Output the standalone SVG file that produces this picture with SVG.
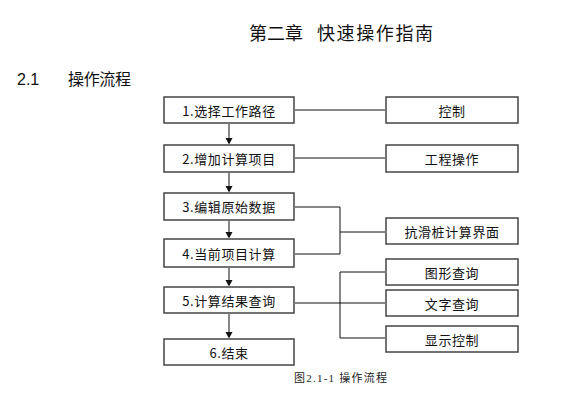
<svg xmlns="http://www.w3.org/2000/svg" width="577" height="402" viewBox="0 0 577 402">
<style>
.box{fill:#fff;stroke:#444;stroke-width:1.5}
.t{font-family:"Noto Sans CJK SC","DejaVu Sans",sans-serif;font-size:13px;fill:#111;text-anchor:middle;dominant-baseline:central;letter-spacing:0.6px}
.ln{fill:none;stroke:#111;stroke-width:1}
.ah{fill:#111}
.h{font-family:"Noto Sans CJK SC",sans-serif;fill:#111}
</style>
<rect width="577" height="402" fill="#fff"/>
<text class="h" x="249" y="40" font-size="18" textLength="54">第二章</text>
<text class="h" x="317" y="40" font-size="18" textLength="116">快速操作指南</text>
<text x="17" y="85" font-family="Liberation Sans,sans-serif" font-size="16" fill="#111">2.1</text>
<text class="h" x="68" y="85" font-size="16" textLength="63">操作流程</text>
<g id="n1"><rect class="box" x="164" y="97" width="130" height="26"/><text class="t" x="229" y="110">1.选择工作路径</text></g>
<g id="n2"><rect class="box" x="164" y="145" width="130" height="27"/><text class="t" x="229" y="158.5">2.增加计算项目</text></g>
<g id="n3"><rect class="box" x="164" y="193" width="130" height="27"/><text class="t" x="229" y="206.5">3.编辑原始数据</text></g>
<g id="n4"><rect class="box" x="164" y="239" width="130" height="28"/><text class="t" x="229" y="253">4.当前项目计算</text></g>
<g id="n5"><rect class="box" x="164" y="287" width="130" height="26"/><text class="t" x="229" y="300">5.计算结果查询</text></g>
<g id="n6"><rect class="box" x="164" y="339" width="130" height="26"/><text class="t" x="229" y="352">6.结束</text></g>
<g id="r1"><rect class="box" x="386" y="97" width="132" height="26"/><text class="t" x="452" y="110">控制</text></g>
<g id="r2"><rect class="box" x="386" y="145" width="132" height="27"/><text class="t" x="452" y="158.5">工程操作</text></g>
<g id="r3"><rect class="box" x="386" y="218" width="132" height="26"/><text class="t" x="452" y="231">抗滑桩计算界面</text></g>
<g id="r4"><rect class="box" x="386" y="259" width="132" height="26"/><text class="t" x="452" y="272">图形查询</text></g>
<g id="r5"><rect class="box" x="386" y="290" width="132" height="26"/><text class="t" x="452" y="303">文字查询</text></g>
<g id="r6"><rect class="box" x="386" y="326" width="132" height="26"/><text class="t" x="452" y="339">显示控制</text></g>
<g id="connectors">
<line class="ln" x1="229" y1="124" x2="229" y2="140"/>
<polygon class="ah" points="225.5,138 232.5,138 229,144.5"/>
<line class="ln" x1="229" y1="173" x2="229" y2="188"/>
<polygon class="ah" points="225.5,186 232.5,186 229,192.5"/>
<line class="ln" x1="229" y1="221" x2="229" y2="234"/>
<polygon class="ah" points="225.5,232 232.5,232 229,238.5"/>
<line class="ln" x1="229" y1="268" x2="229" y2="282"/>
<polygon class="ah" points="225.5,280 232.5,280 229,286.5"/>
<line class="ln" x1="229" y1="314" x2="229" y2="334"/>
<polygon class="ah" points="225.5,332 232.5,332 229,338.5"/>
<line class="ln" x1="295" y1="110" x2="385" y2="110"/>
<line class="ln" x1="295" y1="158" x2="385" y2="158"/>
<polyline class="ln" points="295,207 340,207 340,254 295,254"/>
<line class="ln" x1="340" y1="232" x2="385" y2="232"/>
<line class="ln" x1="295" y1="303" x2="385" y2="303"/>
<polyline class="ln" points="385,272 340,272 340,338 385,338"/>
</g>
<text x="294" y="382" font-family="Liberation Serif,Noto Sans CJK SC,serif" font-size="11" fill="#222" textLength="93">图2.1-1 操作流程</text>
</svg>
